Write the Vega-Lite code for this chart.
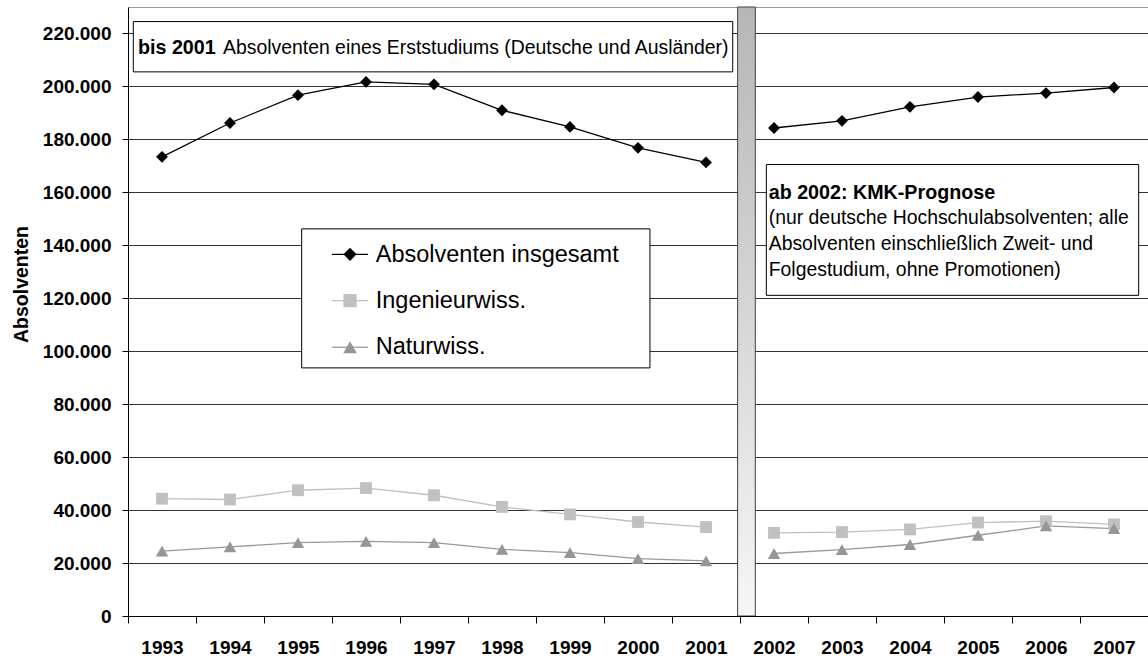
{
  "$schema": "https://vega.github.io/schema/vega-lite/v6.json",
  "width": 1020,
  "height": 609,
  "autosize": {"type": "none"},
  "padding": {"left": 128, "top": 7, "right": 0, "bottom": 42},
  "background": "white",
  "config": {
    "font": "Liberation Sans",
    "locale": {"number": {"decimal": ",", "thousands": ".", "grouping": [3], "currency": ["", " €"]}},
    "view": {"stroke": "#999999", "strokeWidth": 1},
    "axisY": {
      "labelFontSize": 19, "labelFontWeight": "bold", "labelColor": "#000000", "labelPadding": 11,
      "tickSize": 6, "tickColor": "#000000", "domainColor": "#000000",
      "gridColor": "#333333", "gridWidth": 1,
      "titleFontSize": 19.5, "titleFontWeight": "bold", "titleColor": "#000000",
      "titleX": -97, "titleY": 277
    },
    "axisX": {
      "labelFontSize": 19, "labelFontWeight": "bold", "labelColor": "#000000", "labelPadding": 15,
      "tickSize": 7, "tickColor": "#000000", "domainColor": "#000000", "tickBand": "extent",
      "labelAngle": 0, "grid": false
    }
  },
  "data": {
    "values": [
      {"year": "1993", "series": "Absolventen insgesamt", "period": "bis 2001", "value": 173400},
      {"year": "1994", "series": "Absolventen insgesamt", "period": "bis 2001", "value": 186200},
      {"year": "1995", "series": "Absolventen insgesamt", "period": "bis 2001", "value": 196700},
      {"year": "1996", "series": "Absolventen insgesamt", "period": "bis 2001", "value": 201700},
      {"year": "1997", "series": "Absolventen insgesamt", "period": "bis 2001", "value": 200800},
      {"year": "1998", "series": "Absolventen insgesamt", "period": "bis 2001", "value": 191000},
      {"year": "1999", "series": "Absolventen insgesamt", "period": "bis 2001", "value": 184700},
      {"year": "2000", "series": "Absolventen insgesamt", "period": "bis 2001", "value": 176800},
      {"year": "2001", "series": "Absolventen insgesamt", "period": "bis 2001", "value": 171300},
      {"year": "2002", "series": "Absolventen insgesamt", "period": "ab 2002", "value": 184300},
      {"year": "2003", "series": "Absolventen insgesamt", "period": "ab 2002", "value": 187000},
      {"year": "2004", "series": "Absolventen insgesamt", "period": "ab 2002", "value": 192300},
      {"year": "2005", "series": "Absolventen insgesamt", "period": "ab 2002", "value": 196000},
      {"year": "2006", "series": "Absolventen insgesamt", "period": "ab 2002", "value": 197500},
      {"year": "2007", "series": "Absolventen insgesamt", "period": "ab 2002", "value": 199600},
      {"year": "1993", "series": "Ingenieurwiss.", "period": "bis 2001", "value": 44300},
      {"year": "1994", "series": "Ingenieurwiss.", "period": "bis 2001", "value": 44000},
      {"year": "1995", "series": "Ingenieurwiss.", "period": "bis 2001", "value": 47500},
      {"year": "1996", "series": "Ingenieurwiss.", "period": "bis 2001", "value": 48300},
      {"year": "1997", "series": "Ingenieurwiss.", "period": "bis 2001", "value": 45600},
      {"year": "1998", "series": "Ingenieurwiss.", "period": "bis 2001", "value": 41200},
      {"year": "1999", "series": "Ingenieurwiss.", "period": "bis 2001", "value": 38400},
      {"year": "2000", "series": "Ingenieurwiss.", "period": "bis 2001", "value": 35500},
      {"year": "2001", "series": "Ingenieurwiss.", "period": "bis 2001", "value": 33600},
      {"year": "2002", "series": "Ingenieurwiss.", "period": "ab 2002", "value": 31400},
      {"year": "2003", "series": "Ingenieurwiss.", "period": "ab 2002", "value": 31700},
      {"year": "2004", "series": "Ingenieurwiss.", "period": "ab 2002", "value": 32700},
      {"year": "2005", "series": "Ingenieurwiss.", "period": "ab 2002", "value": 35300},
      {"year": "2006", "series": "Ingenieurwiss.", "period": "ab 2002", "value": 35800},
      {"year": "2007", "series": "Ingenieurwiss.", "period": "ab 2002", "value": 34600},
      {"year": "1993", "series": "Naturwiss.", "period": "bis 2001", "value": 24500},
      {"year": "1994", "series": "Naturwiss.", "period": "bis 2001", "value": 26100},
      {"year": "1995", "series": "Naturwiss.", "period": "bis 2001", "value": 27700},
      {"year": "1996", "series": "Naturwiss.", "period": "bis 2001", "value": 28200},
      {"year": "1997", "series": "Naturwiss.", "period": "bis 2001", "value": 27700},
      {"year": "1998", "series": "Naturwiss.", "period": "bis 2001", "value": 25200},
      {"year": "1999", "series": "Naturwiss.", "period": "bis 2001", "value": 23900},
      {"year": "2000", "series": "Naturwiss.", "period": "bis 2001", "value": 21700},
      {"year": "2001", "series": "Naturwiss.", "period": "bis 2001", "value": 20800},
      {"year": "2002", "series": "Naturwiss.", "period": "ab 2002", "value": 23600},
      {"year": "2003", "series": "Naturwiss.", "period": "ab 2002", "value": 25100},
      {"year": "2004", "series": "Naturwiss.", "period": "ab 2002", "value": 27000},
      {"year": "2005", "series": "Naturwiss.", "period": "ab 2002", "value": 30500},
      {"year": "2006", "series": "Naturwiss.", "period": "ab 2002", "value": 34000},
      {"year": "2007", "series": "Naturwiss.", "period": "ab 2002", "value": 33000}
    ]
  },
  "layer": [
    {
      "data": {"values": [{"box": "Trennung 2001/2002"}]},
      "mark": {"type": "rect", "stroke": "#404040", "strokeWidth": 1,
        "fill": {"gradient": "linear", "x1": 0, "y1": 0, "x2": 0, "y2": 1,
          "stops": [{"offset": 0, "color": "#b6b6b6"}, {"offset": 1, "color": "#f6f6f6"}]}},
      "encoding": {
        "x": {"datum": "2001", "type": "ordinal", "bandPosition": 0.965, "title": null},
        "x2": {"datum": "2002", "bandPosition": 0.225},
        "y": {"datum": 0, "type": "quantitative", "title": "Absolventen"},
        "y2": {"datum": 230000}
      }
    },
    {
      "data": {"values": [{"box": "bis 2001"}]},
      "mark": {"type": "rect", "fill": "white", "stroke": "#000000", "strokeWidth": 1},
      "encoding": {
        "x": {"datum": "1993", "type": "ordinal", "bandPosition": 0.078, "title": null},
        "x2": {"datum": "2001", "bandPosition": 0.893},
        "y": {"datum": 224500, "type": "quantitative", "title": "Absolventen"},
        "y2": {"datum": 205500}
      }
    },
    {
      "data": {"values": [{"box": "ab 2002"}]},
      "mark": {"type": "rect", "fill": "white", "stroke": "#000000", "strokeWidth": 1},
      "encoding": {
        "x": {"datum": "2002", "type": "ordinal", "bandPosition": 0.387, "title": null},
        "x2": {"datum": "2007", "bandPosition": 0.863},
        "y": {"datum": 170500, "type": "quantitative", "title": "Absolventen"},
        "y2": {"datum": 121100}
      }
    },
    {
      "data": {"values": [{"box": "Legende"}]},
      "mark": {"type": "rect", "fill": "white", "stroke": "#000000", "strokeWidth": 1},
      "encoding": {
        "x": {"datum": "1995", "type": "ordinal", "bandPosition": 0.554, "title": null},
        "x2": {"datum": "2000", "bandPosition": 0.676},
        "y": {"datum": 146200, "type": "quantitative", "title": "Absolventen"},
        "y2": {"datum": 93700}
      }
    },
    {
      "encoding": {
        "x": {
          "field": "year", "type": "ordinal", "title": null,
          "scale": {"type": "band", "domain": ["1993","1994","1995","1996","1997","1998","1999","2000","2001","2002","2003","2004","2005","2006","2007"], "paddingInner": 0, "paddingOuter": 0}
        },
        "y": {
          "field": "value", "type": "quantitative", "title": "Absolventen",
          "scale": {"domain": [0, 230000], "nice": false, "zero": true},
          "axis": {"values": [0,20000,40000,60000,80000,100000,120000,140000,160000,180000,200000,220000], "format": ",d", "grid": true}
        }
      },
      "layer": [
        {
          "mark": {"type": "line", "strokeWidth": 1.3},
          "encoding": {
            "color": {"field": "series", "type": "nominal", "legend": null,
              "scale": {"domain": ["Absolventen insgesamt", "Ingenieurwiss.", "Naturwiss."], "range": ["#000000", "#c0c0c0", "#999999"]}},
            "detail": {"field": "period", "type": "nominal"}
          }
        },
        {
          "transform": [{"filter": "datum.series === 'Absolventen insgesamt'"}],
          "mark": {"type": "point", "shape": "diamond", "filled": true, "color": "#000000", "size": 140, "opacity": 1}
        },
        {
          "transform": [{"filter": "datum.series === 'Ingenieurwiss.'"}],
          "mark": {"type": "point", "shape": "square", "filled": true, "color": "#c0c0c0", "size": 140, "opacity": 1}
        },
        {
          "transform": [{"filter": "datum.series === 'Naturwiss.'"}],
          "mark": {"type": "point", "shape": "triangle-up", "filled": true, "color": "#969696", "size": 155, "opacity": 1}
        }
      ]
    },
    {
      "data": {"values": [{"series": "Absolventen insgesamt"}]},
      "mark": {"type": "rule", "color": "#000000", "strokeWidth": 1.3},
      "encoding": {
        "x": {"datum": "1996", "type": "ordinal", "bandPosition": 0.0, "title": null},
        "x2": {"datum": "1996", "bandPosition": 0.529},
        "y": {"datum": 136600, "type": "quantitative", "title": "Absolventen"}
      }
    },
    {
      "data": {"values": [{"series": "Ingenieurwiss."}]},
      "mark": {"type": "rule", "color": "#c0c0c0", "strokeWidth": 1.3},
      "encoding": {
        "x": {"datum": "1996", "type": "ordinal", "bandPosition": 0.0, "title": null},
        "x2": {"datum": "1996", "bandPosition": 0.529},
        "y": {"datum": 119100, "type": "quantitative", "title": "Absolventen"}
      }
    },
    {
      "data": {"values": [{"series": "Naturwiss."}]},
      "mark": {"type": "rule", "color": "#a8a8a8", "strokeWidth": 1.3},
      "encoding": {
        "x": {"datum": "1996", "type": "ordinal", "bandPosition": 0.0, "title": null},
        "x2": {"datum": "1996", "bandPosition": 0.529},
        "y": {"datum": 101500, "type": "quantitative", "title": "Absolventen"}
      }
    },
    {
      "data": {"values": [{"series": "Absolventen insgesamt"}]},
      "mark": {"type": "point", "shape": "diamond", "filled": true, "color": "#000000", "size": 175, "opacity": 1},
      "encoding": {
        "x": {"datum": "1996", "type": "ordinal", "bandPosition": 0.265, "title": null},
        "y": {"datum": 136600, "type": "quantitative", "title": "Absolventen"}
      }
    },
    {
      "data": {"values": [{"series": "Ingenieurwiss."}]},
      "mark": {"type": "point", "shape": "square", "filled": true, "color": "#c0c0c0", "size": 175, "opacity": 1},
      "encoding": {
        "x": {"datum": "1996", "type": "ordinal", "bandPosition": 0.265, "title": null},
        "y": {"datum": 119100, "type": "quantitative", "title": "Absolventen"}
      }
    },
    {
      "data": {"values": [{"series": "Naturwiss."}]},
      "mark": {"type": "point", "shape": "triangle-up", "filled": true, "color": "#969696", "size": 185, "opacity": 1},
      "encoding": {
        "x": {"datum": "1996", "type": "ordinal", "bandPosition": 0.265, "title": null},
        "y": {"datum": 101500, "type": "quantitative", "title": "Absolventen"}
      }
    },
    {
      "data": {"values": [{"series": "Absolventen insgesamt"}]},
      "mark": {"type": "text", "align": "left", "baseline": "alphabetic", "fontSize": 23.5, "color": "#000000"},
      "encoding": {
        "x": {"datum": "1996", "type": "ordinal", "bandPosition": 0.643, "title": null},
        "y": {"datum": 133700, "type": "quantitative", "title": "Absolventen"},
        "text": {"field": "series", "type": "nominal"}
      }
    },
    {
      "data": {"values": [{"series": "Ingenieurwiss."}]},
      "mark": {"type": "text", "align": "left", "baseline": "alphabetic", "fontSize": 23.5, "color": "#000000"},
      "encoding": {
        "x": {"datum": "1996", "type": "ordinal", "bandPosition": 0.643, "title": null},
        "y": {"datum": 116300, "type": "quantitative", "title": "Absolventen"},
        "text": {"field": "series", "type": "nominal"}
      }
    },
    {
      "data": {"values": [{"series": "Naturwiss."}]},
      "mark": {"type": "text", "align": "left", "baseline": "alphabetic", "fontSize": 23.5, "color": "#000000"},
      "encoding": {
        "x": {"datum": "1996", "type": "ordinal", "bandPosition": 0.643, "title": null},
        "y": {"datum": 98800, "type": "quantitative", "title": "Absolventen"},
        "text": {"field": "series", "type": "nominal"}
      }
    },
    {
      "data": {"values": [{"note": "bis 2001"}]},
      "mark": {"type": "text", "align": "left", "baseline": "alphabetic", "fontSize": 19.7, "fontWeight": "bold", "color": "#000000"},
      "encoding": {
        "x": {"datum": "1993", "type": "ordinal", "bandPosition": 0.147, "title": null},
        "y": {"datum": 212400, "type": "quantitative", "title": "Absolventen"},
        "text": {"field": "note", "type": "nominal"}
      }
    },
    {
      "data": {"values": [{"note": "Absolventen eines Erststudiums (Deutsche und Ausländer)"}]},
      "mark": {"type": "text", "align": "left", "baseline": "alphabetic", "fontSize": 19.4, "color": "#000000"},
      "encoding": {
        "x": {"datum": "1994", "type": "ordinal", "bandPosition": 0.397, "title": null},
        "y": {"datum": 212400, "type": "quantitative", "title": "Absolventen"},
        "text": {"field": "note", "type": "nominal"}
      }
    },
    {
      "data": {"values": [{"note": "ab 2002: KMK-Prognose"}]},
      "mark": {"type": "text", "align": "left", "baseline": "alphabetic", "fontSize": 19.7, "fontWeight": "bold", "color": "#000000"},
      "encoding": {
        "x": {"datum": "2002", "type": "ordinal", "bandPosition": 0.422, "title": null},
        "y": {"datum": 157400, "type": "quantitative", "title": "Absolventen"},
        "text": {"field": "note", "type": "nominal"}
      }
    },
    {
      "data": {"values": [{"note": "(nur deutsche Hochschulabsolventen; alle\nAbsolventen einschließlich Zweit- und\nFolgestudium, ohne Promotionen)"}]},
      "mark": {"type": "text", "align": "left", "baseline": "alphabetic", "fontSize": 19.4, "color": "#000000", "lineBreak": "\n", "lineHeight": 26},
      "encoding": {
        "x": {"datum": "2002", "type": "ordinal", "bandPosition": 0.422, "title": null},
        "y": {"datum": 147900, "type": "quantitative", "title": "Absolventen"},
        "text": {"field": "note", "type": "nominal"}
      }
    }
  ]
}
